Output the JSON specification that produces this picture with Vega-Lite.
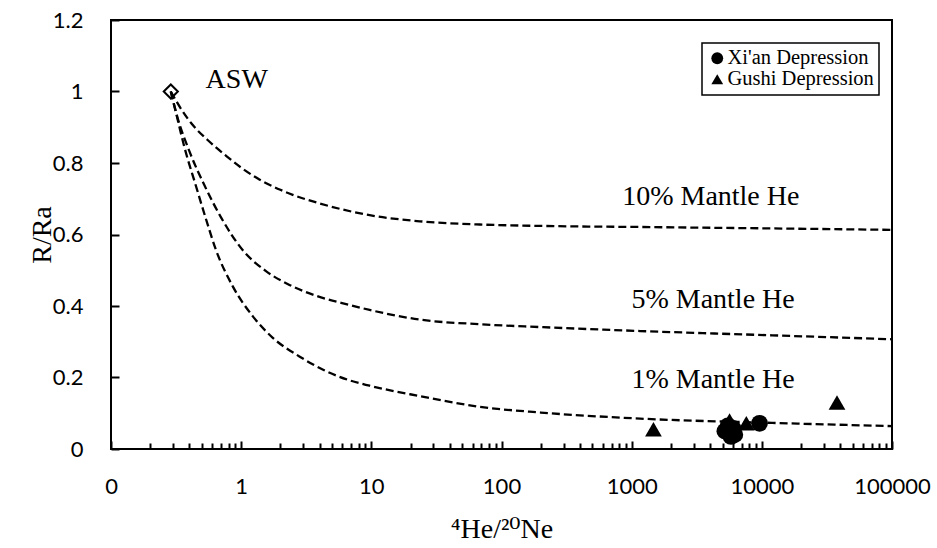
{
  "$schema": "https://vega.github.io/schema/vega-lite/v6.json",
  "width": 781,
  "height": 429,
  "autosize": {"type": "none"},
  "padding": {"left": 111, "top": 20, "right": 45, "bottom": 99},
  "background": "white",
  "config": {
    "view": {"stroke": "black", "strokeWidth": 2},
    "legend": {"strokeWidth": 1.5},
    "axis": {
      "domain": false,
      "grid": false,
      "labelColor": "black",
      "tickColor": "black",
      "tickWidth": 2,
      "labelFont": "Lato",
      "labelFontSize": 22,
      "titleFont": "'Liberation Serif', 'DejaVu Serif', serif",
      "titleFontSize": 28,
      "titleFontWeight": "normal",
      "titleColor": "black",
      "labelFlush": false,
      "labelOverlap": false
    }
  },
  "datasets": {
    "curves": [
      {"x": 0.288, "R": 1.0, "curve": "10%"},
      {"x": 0.35, "R": 0.948, "curve": "10%"},
      {"x": 0.425, "R": 0.906, "curve": "10%"},
      {"x": 0.55, "R": 0.865, "curve": "10%"},
      {"x": 0.767, "R": 0.82, "curve": "10%"},
      {"x": 1.0, "R": 0.787, "curve": "10%"},
      {"x": 1.38, "R": 0.754, "curve": "10%"},
      {"x": 2.0, "R": 0.725, "curve": "10%"},
      {"x": 2.49, "R": 0.711, "curve": "10%"},
      {"x": 4.0, "R": 0.687, "curve": "10%"},
      {"x": 6.0, "R": 0.67, "curve": "10%"},
      {"x": 9.7, "R": 0.654, "curve": "10%"},
      {"x": 23.5, "R": 0.637, "curve": "10%"},
      {"x": 68, "R": 0.628, "curve": "10%"},
      {"x": 200, "R": 0.624, "curve": "10%"},
      {"x": 1160, "R": 0.621, "curve": "10%"},
      {"x": 12000, "R": 0.617, "curve": "10%"},
      {"x": 100000, "R": 0.613, "curve": "10%"},
      {"x": 0.288, "R": 1.0, "curve": "5%"},
      {"x": 0.325, "R": 0.926, "curve": "5%"},
      {"x": 0.4, "R": 0.833, "curve": "5%"},
      {"x": 0.52, "R": 0.739, "curve": "5%"},
      {"x": 0.7, "R": 0.648, "curve": "5%"},
      {"x": 1.03, "R": 0.556, "curve": "5%"},
      {"x": 1.56, "R": 0.497, "curve": "5%"},
      {"x": 2.35, "R": 0.459, "curve": "5%"},
      {"x": 3.8, "R": 0.428, "curve": "5%"},
      {"x": 6.8, "R": 0.403, "curve": "5%"},
      {"x": 9.7, "R": 0.389, "curve": "5%"},
      {"x": 23.5, "R": 0.362, "curve": "5%"},
      {"x": 68, "R": 0.349, "curve": "5%"},
      {"x": 200, "R": 0.341, "curve": "5%"},
      {"x": 1160, "R": 0.33, "curve": "5%"},
      {"x": 12000, "R": 0.318, "curve": "5%"},
      {"x": 100000, "R": 0.307, "curve": "5%"},
      {"x": 0.288, "R": 1.0, "curve": "1%"},
      {"x": 0.316, "R": 0.94, "curve": "1%"},
      {"x": 0.366, "R": 0.845, "curve": "1%"},
      {"x": 0.45, "R": 0.735, "curve": "1%"},
      {"x": 0.538, "R": 0.642, "curve": "1%"},
      {"x": 0.64, "R": 0.557, "curve": "1%"},
      {"x": 0.862, "R": 0.455, "curve": "1%"},
      {"x": 1.23, "R": 0.371, "curve": "1%"},
      {"x": 1.75, "R": 0.311, "curve": "1%"},
      {"x": 2.8, "R": 0.259, "curve": "1%"},
      {"x": 4.3, "R": 0.221, "curve": "1%"},
      {"x": 6.8, "R": 0.192, "curve": "1%"},
      {"x": 9.7, "R": 0.177, "curve": "1%"},
      {"x": 23.5, "R": 0.148, "curve": "1%"},
      {"x": 68, "R": 0.118, "curve": "1%"},
      {"x": 200, "R": 0.102, "curve": "1%"},
      {"x": 1160, "R": 0.085, "curve": "1%"},
      {"x": 12000, "R": 0.073, "curve": "1%"},
      {"x": 100000, "R": 0.064, "curve": "1%"}
    ],
    "points": [
      {"x": 5200, "R": 0.05, "series": "Xi'an Depression"},
      {"x": 5500, "R": 0.065, "series": "Xi'an Depression"},
      {"x": 5800, "R": 0.035, "series": "Xi'an Depression"},
      {"x": 6000, "R": 0.058, "series": "Xi'an Depression"},
      {"x": 6200, "R": 0.04, "series": "Xi'an Depression"},
      {"x": 9600, "R": 0.072, "series": "Xi'an Depression"},
      {"x": 1470, "R": 0.055, "series": "Gushi Depression"},
      {"x": 5650, "R": 0.08, "series": "Gushi Depression"},
      {"x": 7600, "R": 0.072, "series": "Gushi Depression"},
      {"x": 37800, "R": 0.13, "series": "Gushi Depression"}
    ],
    "asw": [{"x": 0.288, "R": 1.0}],
    "labels": [
      {"x": 0.924, "R": 1.01, "text": "ASW"},
      {"x": 4055, "R": 0.683, "text": "10% Mantle He"},
      {"x": 4220, "R": 0.394, "text": "5% Mantle He"},
      {"x": 4220, "R": 0.17, "text": "1% Mantle He"}
    ]
  },
  "encoding": {
    "y": {
      "field": "R",
      "type": "quantitative",
      "scale": {"domain": [0, 1.2], "nice": false, "zero": false},
      "axis": {
        "title": "R/Ra",
        "values": [0, 0.2, 0.4, 0.6, 0.8, 1, 1.2],
        "format": "~g",
        "tickSize": -8,
        "labelPadding": 36,
        "labelAlign": "right",
        "labelBaseline": "middle",
        "titleX": -61,
        "titleBaseline": "alphabetic",
        "titleAngle": -90
      }
    }
  },
  "resolve": {"axis": {"x": "independent"}},
  "layer": [
    {
      "data": {"name": "curves"},
      "mark": {"type": "line", "color": "black", "strokeWidth": 2.3, "strokeDash": [8, 4], "interpolate": "monotone"},
      "encoding": {
        "x": {
          "field": "x",
          "type": "quantitative",
          "scale": {"type": "log", "domain": [0.1, 100000], "nice": false},
          "axis": {
            "orient": "bottom",
            "title": "⁴He/²⁰Ne",
            "values": [0.1, 1, 10, 100, 1000, 10000, 100000],
            "labelExpr": "datum.value < 0.5 ? '0' : format(datum.value, 'd')",
            "tickSize": -8,
            "labelPadding": 52,
            "labelBaseline": "alphabetic",
            "titleY": 88,
            "titleBaseline": "alphabetic"
          }
        },
        "detail": {"field": "curve"}
      }
    },
    {
      "data": {"name": "points"},
      "mark": {"type": "point", "filled": true, "color": "black", "opacity": 1},
      "encoding": {
        "x": {
          "field": "x",
          "type": "quantitative",
          "scale": {"type": "log", "domain": [0.1, 100000], "nice": false},
          "axis": {
            "orient": "bottom",
            "title": null,
            "labels": false,
            "values": [0.2, 0.3, 0.4, 0.5, 0.6, 0.7, 0.8, 0.9, 2, 3, 4, 5, 6, 7, 8, 9, 20, 30, 40, 50, 60, 70, 80, 90, 200, 300, 400, 500, 600, 700, 800, 900, 2000, 3000, 4000, 5000, 6000, 7000, 8000, 9000, 20000, 30000, 40000, 50000, 60000, 70000, 80000, 90000],
            "tickSize": -6
          }
        },
        "shape": {
          "field": "series",
          "type": "nominal",
          "scale": {"domain": ["Xi'an Depression", "Gushi Depression"], "range": ["circle", "triangle-up"]},
          "legend": {
            "orient": "none",
            "legendX": 591,
            "legendY": 23,
            "title": null,
            "strokeColor": "black",
            "fillColor": "white",
            "padding": 5,
            "labelFont": "Liberation Serif",
            "labelFontSize": 20.5,
            "labelColor": "black",
            "symbolSize": 140,
            "symbolFillColor": "black",
            "symbolStrokeColor": "black",
            "symbolOpacity": 1,
            "rowPadding": 0,
            "labelOffset": 0
          }
        },
        "size": {"value": 280}
      }
    },
    {
      "data": {"name": "asw"},
      "mark": {"type": "point", "shape": "diamond", "filled": false, "color": "black", "strokeWidth": 2, "size": 200, "opacity": 1},
      "encoding": {
        "x": {"field": "x", "type": "quantitative", "scale": {"type": "log", "domain": [0.1, 100000], "nice": false}, "axis": null}
      }
    },
    {
      "data": {"name": "labels"},
      "mark": {"type": "text", "font": "Liberation Serif", "fontSize": 28, "color": "black", "align": "center", "baseline": "alphabetic"},
      "encoding": {
        "x": {"field": "x", "type": "quantitative", "scale": {"type": "log", "domain": [0.1, 100000], "nice": false}, "axis": null},
        "text": {"field": "text"}
      }
    }
  ]
}
